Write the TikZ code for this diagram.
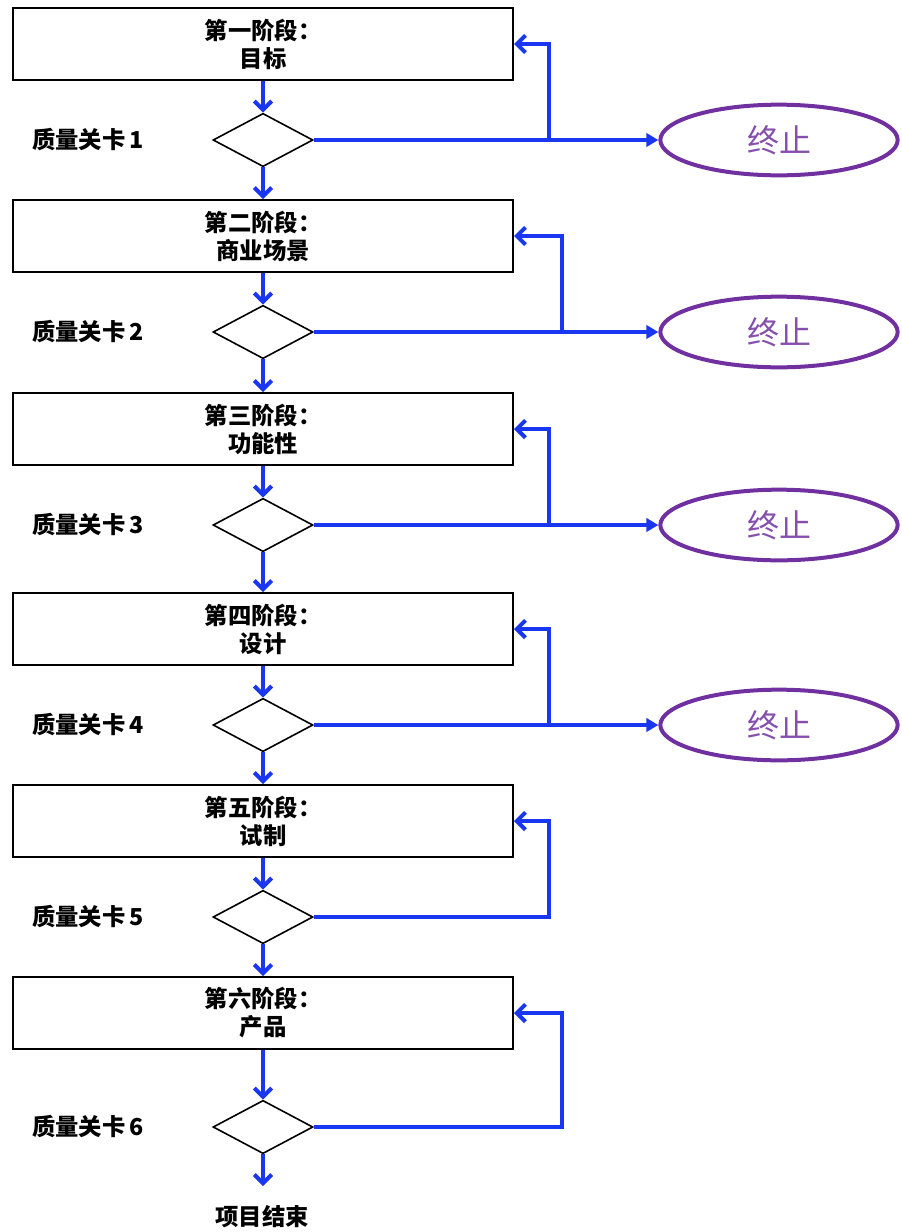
\documentclass[tikz,border=0pt]{standalone}
\usepackage{fontspec}
\newfontfamily\cjk{Noto Sans CJK SC}
\usetikzlibrary{arrows.meta,positioning,shapes.geometric}
\definecolor{flowblue}{RGB}{25,55,240}
\definecolor{stopviolet}{RGB}{112,48,160}

\begin{document}
\begin{tikzpicture}[
    x=0.75pt, y=-0.75pt,
    stage/.style={rectangle, draw, line width=1.5pt, minimum width=375pt, minimum height=54pt, align=center, font=\cjk\bfseries\fontsize{17.5}{21}\selectfont},
    gate/.style={diamond, draw, line width=1.2pt, minimum width=75pt, minimum height=40pt, inner sep=0pt},
    gatelabel/.style={font=\cjk\bfseries\fontsize{17.5}{20}\selectfont},
    stopnode/.style={ellipse, draw=stopviolet, line width=3pt, minimum width=178pt, minimum height=53pt, text=stopviolet!85, font=\cjk\fontsize{24}{28}\selectfont},
    flow/.style={draw=flowblue, line width=3pt, -{Straight Barb[length=6.5pt,width=13pt]}},
    kill/.style={draw=flowblue, line width=3pt, -{Triangle[length=9pt,width=10pt]}}
]
    \useasboundingbox (0,0) rectangle (902,1232);

    % stages
    \node[stage] (b1) at (263,44) {第一阶段：\\目标};
    \node[stage] (b2) at (263,236) {第二阶段：\\商业场景};
    \node[stage] (b3) at (263,429) {第三阶段：\\功能性};
    \node[stage] (b4) at (263,629) {第四阶段：\\设计};
    \node[stage] (b5) at (263,821) {第五阶段：\\试制};
    \node[stage] (b6) at (263,1013) {第六阶段：\\产品};

    % quality gates
    \node[gate] (g1) at (263,140) {};
    \node[gate] (g2) at (263,332) {};
    \node[gate] (g3) at (263,525) {};
    \node[gate] (g4) at (263,725) {};
    \node[gate] (g5) at (263,917) {};
    \node[gate] (g6) at (263,1127) {};

    \node[gatelabel] (l1) at (88,140) {质量关卡\,1};
    \node[gatelabel] (l2) at (88,332) {质量关卡\,2};
    \node[gatelabel] (l3) at (88,525) {质量关卡\,3};
    \node[gatelabel] (l4) at (88,725) {质量关卡\,4};
    \node[gatelabel] (l5) at (88,917) {质量关卡\,5};
    \node[gatelabel] (l6) at (88,1127) {质量关卡\,6};

    % stop
    \node[stopnode] (e1) at (779,140) {终止};
    \node[stopnode] (e2) at (779,332) {终止};
    \node[stopnode] (e3) at (779,525) {终止};
    \node[stopnode] (e4) at (779,725) {终止};

    \coordinate (j1) at (549,140);
    \coordinate (j2) at (562,332);
    \coordinate (j3) at (549,525);
    \coordinate (j4) at (549,725);
    \coordinate (j5) at (549,917);
    \coordinate (j6) at (562,1127);

    \coordinate (end) at (263,1186);
    \node[gatelabel] (done) at (262,1217) {项目结束};

    % main flow
    \draw[flow] (b1) -- (g1);
    \draw[flow] (g1) -- (b2);
    \draw[flow] (b2) -- (g2);
    \draw[flow] (g2) -- (b3);
    \draw[flow] (b3) -- (g3);
    \draw[flow] (g3) -- (b4);
    \draw[flow] (b4) -- (g4);
    \draw[flow] (g4) -- (b5);
    \draw[flow] (b5) -- (g5);
    \draw[flow] (g5) -- (b6);
    \draw[flow] (b6) -- (g6);
    \draw[flow] (g6) -- (end);

    % rework loops and stops
    \draw[kill] (g1.east) -- (e1);
    \draw[kill] (g2.east) -- (e2);
    \draw[kill] (g3.east) -- (e3);
    \draw[kill] (g4.east) -- (e4);
    \draw[flow] (j1) |- (b1.east);
    \draw[flow] (j2) |- (b2.east);
    \draw[flow] (j3) |- (b3.east);
    \draw[flow] (j4) |- (b4.east);
    \draw[flow] (g5.east) -- (j5) |- (b5.east);
    \draw[flow] (g6.east) -- (j6) |- (b6.east);
\end{tikzpicture}
\end{document}
